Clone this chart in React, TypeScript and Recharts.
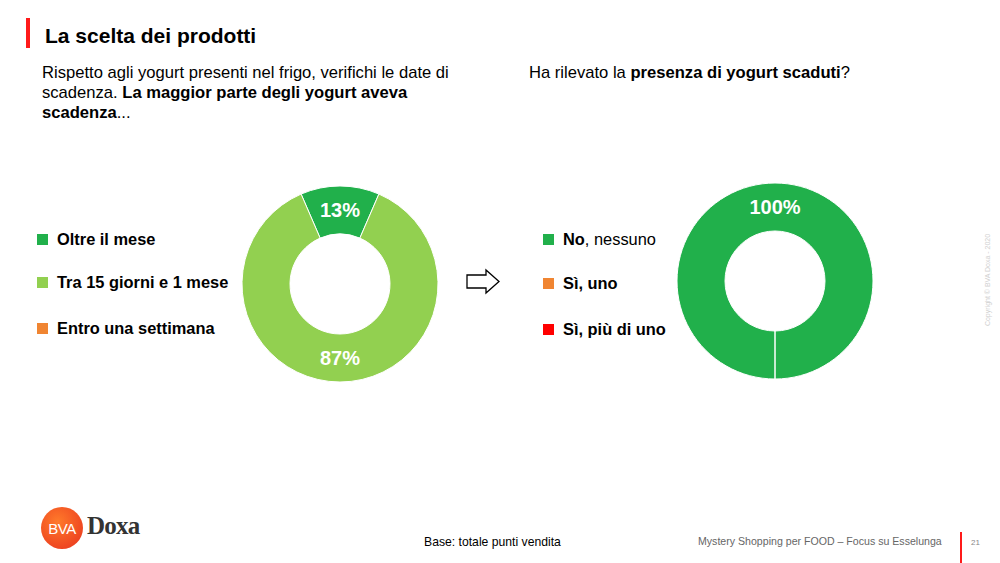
import React from "react";
import { PieChart, Pie, Cell } from "recharts";

const leftCategories = ["Oltre il mese", "Tra 15 giorni e 1 mese", "Entro una settimana"];
const leftValues = [13, 87, 0];
const leftColors = ["#21B04B", "#92D050", "#F08532"];

const rightCategories = ["No", "Sì, uno", "Sì, più di uno"];
const rightSuffix = [", nessuno", "", ""];
const rightValues = [100, 0, 0];
const rightColors = ["#21B04B", "#F08532", "#FF0000"];

const FONT = "'Liberation Sans', Arial, sans-serif";
const RAD = Math.PI / 180;

const renderLabel = (props: any) => {
  const { cx, cy, midAngle, innerRadius, outerRadius, value } = props;
  if (!value) return null;
  const r = (innerRadius + outerRadius) / 2;
  const x = cx + r * Math.cos(-midAngle * RAD);
  const y = cy + r * Math.sin(-midAngle * RAD);
  return (
    <text x={x} y={y} fill="#fff" textAnchor="middle" dominantBaseline="central"
      fontFamily={FONT} fontWeight="bold" fontSize={20}>
      {`${value}%`}
    </text>
  );
};

function Donut({ names, values, colors, start }: { names: string[]; values: number[]; colors: string[]; start: number }) {
  const data = names.map((name, i) => ({ name, value: values[i] }));
  return (
    <PieChart width={240} height={240} margin={{ top: 0, right: 0, bottom: 0, left: 0 }}>
      <Pie
        data={data}
        dataKey="value"
        nameKey="name"
        cx={120}
        cy={120}
        innerRadius={50}
        outerRadius={98}
        startAngle={start}
        endAngle={start - 360}
        stroke="#fff"
        strokeWidth={1}
        label={renderLabel}
        labelLine={false}
        isAnimationActive={false}
      >
        {data.map((_, i) => (
          <Cell key={`cell-${i}`} fill={colors[i]} />
        ))}
      </Pie>
    </PieChart>
  );
}

const abs = (left: number, top: number, extra: React.CSSProperties = {}): React.CSSProperties => ({
  position: "absolute",
  left,
  top,
  ...extra,
});

function LegendRow({ x, y, color, children }: { x: number; y: number; color: string; children: React.ReactNode }) {
  return (
    <div style={abs(x, y - 10, { display: "flex", alignItems: "center", height: 20, fontSize: 16.4, color: "#000", whiteSpace: "nowrap" })}>
      <span style={{ display: "inline-block", width: 11, height: 11, background: color, marginRight: 9 }} />
      <span>{children}</span>
    </div>
  );
}

export default function App() {
  const leftRows = [239, 282, 328];
  const rightRows = [239, 283, 329];
  const line: React.CSSProperties = { height: 20, whiteSpace: "nowrap" };
  return (
    <div style={{ position: "absolute", left: 0, top: 0, width: 1000, height: 563, background: "#fff", fontFamily: FONT, overflow: "hidden" }}>
      <div style={abs(26, 18, { width: 4, height: 30, background: "#FF1A1A" })} />
      <div style={abs(45, 24, { fontSize: 21, fontWeight: "bold", color: "#000" })}>La scelta dei prodotti</div>

      <div style={abs(42, 63, { fontSize: 16.6, lineHeight: "20px", color: "#000" })}>
        <div style={line}>Rispetto agli yogurt presenti nel frigo, verifichi le date di</div>
        <div style={line}>scadenza. <b>La maggior parte degli yogurt aveva</b></div>
        <div style={line}><b>scadenza</b>...</div>
      </div>
      <div style={abs(529, 63, { fontSize: 16.6, lineHeight: "20px", color: "#000", whiteSpace: "nowrap" })}>
        Ha rilevato la <b>presenza di yogurt scaduti</b>?
      </div>

      {leftCategories.map((c, i) => (
        <LegendRow key={c} x={37} y={leftRows[i]} color={leftColors[i]}>
          <b>{c}</b>
        </LegendRow>
      ))}
      {rightCategories.map((c, i) => (
        <LegendRow key={c} x={543} y={rightRows[i]} color={rightColors[i]}>
          <b>{c}</b>
          {rightSuffix[i]}
        </LegendRow>
      ))}

      <div style={abs(220, 164)}>
        <Donut names={leftCategories} values={leftValues} colors={leftColors} start={90 + (leftValues[0] * 360) / 200} />
      </div>
      <div style={abs(655, 161)}>
        <Donut names={rightCategories} values={rightValues} colors={rightColors} start={-90} />
      </div>

      <svg style={abs(464, 268)} width={40} height={28}>
        <path d="M3 7 H22 V2 L35 13.5 L22 25 V20 H3 Z" fill="#fff" stroke="#000" strokeWidth={1.3} />
      </svg>

      <div style={abs(987, 280, { transform: "translate(-50%, -50%) rotate(-90deg)", fontSize: 7, color: "#d0d0d0", whiteSpace: "nowrap", transformOrigin: "center" })}>
        Copyright © BVA Doxa - 2020
      </div>

      <div style={abs(41, 507, { width: 42, height: 42, borderRadius: "50%", background: "radial-gradient(circle at 40% 35%, #FF7A2A, #E8321E)", color: "#fff", fontSize: 15, display: "flex", alignItems: "center", justifyContent: "center", letterSpacing: -0.5 })}>
        BVA
      </div>
      <div style={abs(87, 512, { fontFamily: "'Liberation Serif', serif", fontSize: 25, fontWeight: "bold", color: "#333", letterSpacing: -0.8 })}>
        Doxa
      </div>

      <div style={abs(424, 535, { fontSize: 12.2, color: "#000" })}>Base: totale punti vendita</div>
      <div style={abs(698, 535, { fontSize: 10.6, color: "#666", whiteSpace: "nowrap" })}>Mystery Shopping per FOOD – Focus su Esselunga</div>
      <div style={abs(960, 532, { width: 1.5, height: 31, background: "#FF1A1A" })} />
      <div style={abs(971, 538, { fontSize: 8, color: "#888" })}>21</div>
    </div>
  );
}
